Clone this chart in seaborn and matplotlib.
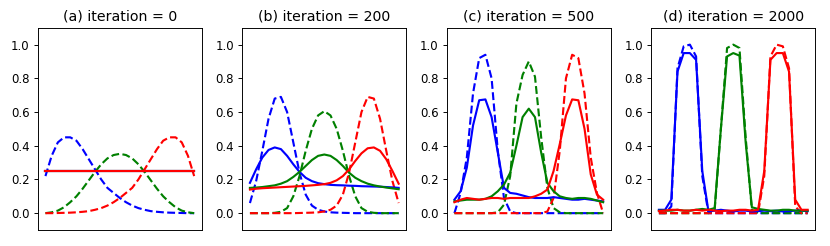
import numpy as np
import matplotlib
matplotlib.use('Agg')
import matplotlib.pyplot as plt
import seaborn as sns

# 25 sample points along the x axis
idx = list(range(25))

titles = ['(a) iteration = 0', '(b) iteration = 200', '(c) iteration = 500', '(d) iteration = 2000']

# (a) iteration 0
a_blue_t = [0.22, 0.34, 0.42, 0.45, 0.45, 0.43, 0.38, 0.32, 0.26, 0.20, 0.15, 0.12, 0.09,
            0.065, 0.045, 0.03, 0.02, 0.012, 0.008, 0.005, 0.003, 0.002, 0.001, 0.0, 0.0]
a_green_t = [0.0, 0.005, 0.015, 0.035, 0.065, 0.10, 0.145, 0.195, 0.245, 0.29, 0.325, 0.345, 0.352,
             0.345, 0.325, 0.29, 0.245, 0.195, 0.145, 0.10, 0.065, 0.035, 0.015, 0.005, 0.0]
a_red_t = [0.0, 0.0, 0.001, 0.002, 0.003, 0.005, 0.008, 0.012, 0.02, 0.03, 0.045, 0.065, 0.09,
           0.12, 0.15, 0.20, 0.26, 0.32, 0.38, 0.43, 0.45, 0.45, 0.42, 0.34, 0.22]
a_blue_s = [0.25] * 25
a_green_s = [0.25] * 25
a_red_s = [0.25] * 25

# (b) iteration 200
b_blue_t = [0.06, 0.19, 0.37, 0.56, 0.68, 0.69, 0.6, 0.42, 0.24, 0.11, 0.045, 0.02, 0.01,
            0.005, 0.003, 0.002, 0.001, 0.0, 0.0, 0.0, 0.0, 0.0, 0.0, 0.0, 0.0]
b_green_t = [0.0, 0.0, 0.0, 0.0, 0.002, 0.008, 0.03, 0.1, 0.22, 0.37, 0.5, 0.58, 0.605,
             0.58, 0.5, 0.37, 0.22, 0.1, 0.03, 0.008, 0.002, 0.0, 0.0, 0.0, 0.0]
b_red_t = [0.0, 0.0, 0.0, 0.0, 0.0, 0.0, 0.0, 0.0, 0.001, 0.002, 0.003, 0.005, 0.01,
           0.02, 0.045, 0.11, 0.24, 0.42, 0.6, 0.69, 0.68, 0.56, 0.37, 0.19, 0.06]
b_blue_s = [0.18, 0.26, 0.33, 0.375, 0.39, 0.38, 0.34, 0.29, 0.245, 0.21, 0.19, 0.178, 0.172,
            0.168, 0.166, 0.165, 0.163, 0.162, 0.16, 0.159, 0.158, 0.157, 0.155, 0.153, 0.15]
b_green_s = [0.15, 0.152, 0.155, 0.16, 0.165, 0.175, 0.19, 0.215, 0.245, 0.28, 0.315, 0.34, 0.348,
             0.34, 0.315, 0.28, 0.24, 0.21, 0.19, 0.175, 0.165, 0.158, 0.152, 0.147, 0.142]
b_red_s = [0.14, 0.145, 0.148, 0.15, 0.152, 0.154, 0.156, 0.158, 0.16, 0.162, 0.165, 0.168, 0.172,
           0.18, 0.195, 0.22, 0.26, 0.31, 0.355, 0.385, 0.39, 0.37, 0.32, 0.25, 0.175]

# (c) iteration 500
c_blue_t = [0.0, 0.12, 0.33, 0.71, 0.92, 0.94, 0.8, 0.37, 0.09, 0.01, 0.0, 0.0, 0.0,
            0.0, 0.0, 0.0, 0.0, 0.0, 0.0, 0.0, 0.0, 0.0, 0.0, 0.0, 0.0]
c_green_t = [0.0, 0.0, 0.0, 0.0, 0.0, 0.0, 0.0, 0.005, 0.05, 0.22, 0.65, 0.82, 0.9,
             0.81, 0.45, 0.15, 0.03, 0.005, 0.0, 0.0, 0.0, 0.0, 0.0, 0.0, 0.0]
c_red_t = [0.0, 0.0, 0.0, 0.0, 0.0, 0.0, 0.0, 0.0, 0.0, 0.0, 0.0, 0.0, 0.0,
           0.0, 0.0, 0.01, 0.09, 0.37, 0.8, 0.94, 0.92, 0.71, 0.33, 0.12, 0.0]
c_blue_s = [0.08, 0.13, 0.27, 0.52, 0.67, 0.675, 0.57, 0.36, 0.15, 0.12, 0.115, 0.105, 0.095,
            0.09, 0.09, 0.09, 0.095, 0.09, 0.085, 0.08, 0.08, 0.085, 0.08, 0.075, 0.07]
c_green_s = [0.07, 0.075, 0.08, 0.08, 0.08, 0.085, 0.1, 0.13, 0.17, 0.24, 0.4, 0.57, 0.62,
             0.57, 0.36, 0.18, 0.13, 0.1, 0.09, 0.085, 0.09, 0.09, 0.085, 0.075, 0.065]
c_red_s = [0.065, 0.08, 0.09, 0.085, 0.08, 0.085, 0.09, 0.09, 0.085, 0.09, 0.09, 0.09, 0.09,
           0.1, 0.115, 0.14, 0.25, 0.41, 0.58, 0.675, 0.67, 0.5, 0.23, 0.11, 0.08]

# (d) iteration 2000
d_blue_t = [0.0, 0.0, 0.04, 0.86, 0.99, 1.0, 0.93, 0.22, 0.0, 0.0, 0.0, 0.0, 0.0,
            0.0, 0.0, 0.0, 0.0, 0.0, 0.0, 0.0, 0.0, 0.0, 0.0, 0.0, 0.0]
d_green_t = [0.0, 0.0, 0.0, 0.0, 0.0, 0.0, 0.0, 0.0, 0.0, 0.02, 0.5, 0.98, 1.0,
             0.98, 0.45, 0.02, 0.0, 0.0, 0.0, 0.0, 0.0, 0.0, 0.0, 0.0, 0.0]
d_red_t = [0.0, 0.0, 0.0, 0.0, 0.0, 0.0, 0.0, 0.0, 0.0, 0.0, 0.0, 0.0, 0.0,
           0.0, 0.0, 0.0, 0.0, 0.22, 0.93, 1.0, 0.99, 0.86, 0.04, 0.0, 0.0]
d_blue_s = [0.02, 0.02, 0.08, 0.84, 0.95, 0.95, 0.91, 0.25, 0.01, 0.015, 0.02, 0.015, 0.01,
            0.015, 0.015, 0.01, 0.012, 0.015, 0.012, 0.015, 0.01, 0.012, 0.015, 0.015, 0.012]
d_green_s = [0.015, 0.015, 0.015, 0.02, 0.015, 0.015, 0.02, 0.025, 0.02, 0.03, 0.5, 0.93, 0.95,
             0.935, 0.42, 0.035, 0.025, 0.02, 0.015, 0.015, 0.02, 0.02, 0.015, 0.015, 0.015]
d_red_s = [0.012, 0.015, 0.02, 0.02, 0.015, 0.015, 0.02, 0.015, 0.02, 0.015, 0.012, 0.015, 0.015,
           0.02, 0.02, 0.015, 0.02, 0.25, 0.91, 0.95, 0.95, 0.84, 0.08, 0.02, 0.02]

targets = [(a_blue_t, a_green_t, a_red_t), (b_blue_t, b_green_t, b_red_t),
           (c_blue_t, c_green_t, c_red_t), (d_blue_t, d_green_t, d_red_t)]
learned = [(a_blue_s, a_green_s, a_red_s), (b_blue_s, b_green_s, b_red_s),
           (c_blue_s, c_green_s, c_red_s), (d_blue_s, d_green_s, d_red_s)]
colors = ['b', 'g', 'r']

fig, axes = plt.subplots(1, 4, figsize=(830 / 85, 246 / 85), dpi=85)
fig.subplots_adjust(left=0.0458, right=0.982, bottom=0.065, top=0.887, wspace=0.25)

for i, ax in enumerate(axes):
    for vals, c in zip(targets[i], colors):
        sns.lineplot(x=idx, y=vals, ax=ax, color=c, linestyle='--', linewidth=1.8)
    for vals, c in zip(learned[i], colors):
        sns.lineplot(x=idx, y=vals, ax=ax, color=c, linewidth=1.8)
    ax.set_ylim(-0.1, 1.1)
    ax.set_yticks([0.0, 0.2, 0.4, 0.6, 0.8, 1.0])
    ax.set_xticks([])
    ax.set_title(titles[i])

plt.savefig('out.png', dpi=85)
